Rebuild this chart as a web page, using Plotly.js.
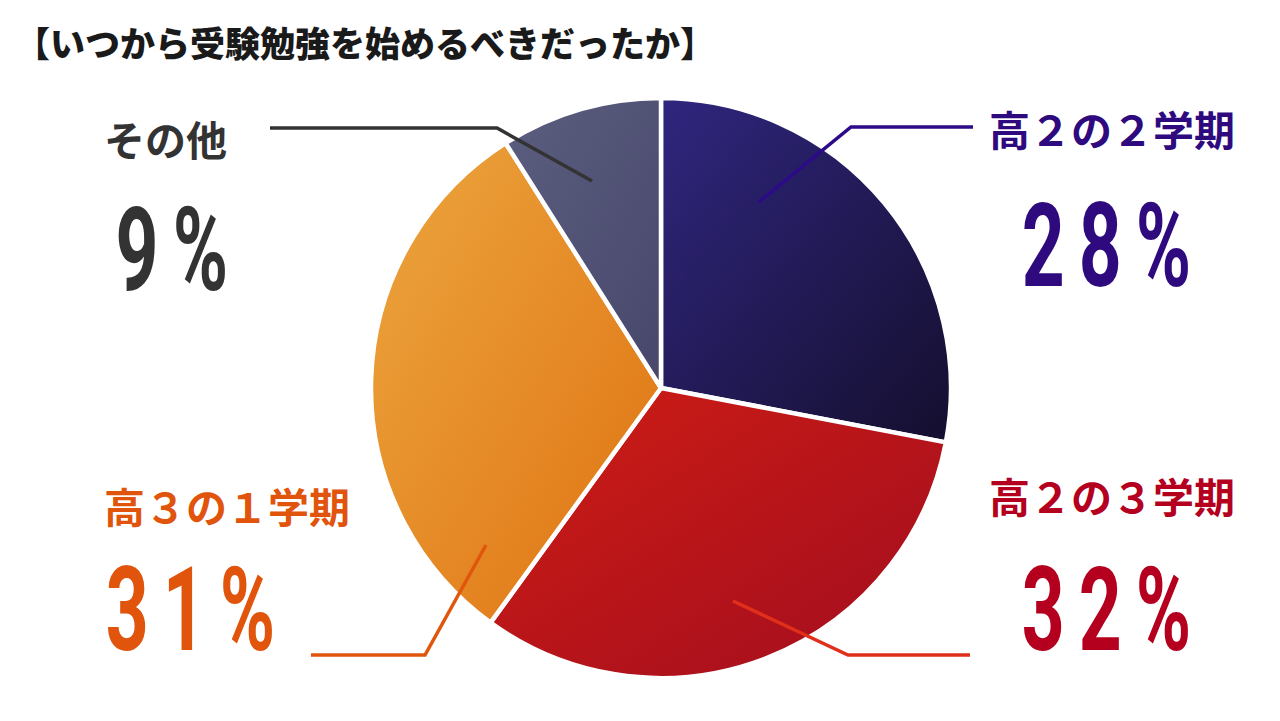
<!DOCTYPE html>
<html><head><meta charset="utf-8">
<script src="https://cdn.plot.ly/plotly-3.0.1.min.js"></script>
<style>html,body{margin:0;padding:0;background:#fff}#chart{width:1280px;height:721px}</style>
</head><body><div id="chart"></div>
<script>
// ---- data ----
const categories = ['高２の２学期', '高２の３学期', '高３の１学期', 'その他'];
const values = [28, 32, 31, 9];
const titleText = '【いつから受験勉強を始めるべきだったか】';

// ---- styles / placement ----
const W = 1280, H = 721;
const sliceColors = ['#221a5e', '#bb1519', '#e68a28', '#525374'];
const gradStops = [['#30267f', '#140f2e'], ['#cf1d14', '#a10d1f'], ['#eca63e', '#df7212'], ['#5c5e80', '#46476a']];
const textColors = ['#2e0a7e', '#b4001e', '#e0540c', '#333333'];
const lineColors = ['#2c0a88', '#e0301c', '#e0560c', '#333333'];
const namePos = [[1112, 128], [1112, 495], [227, 505], [165, 138]];
const pctPos = [[1106, 246], [1106, 610], [190, 610], [172, 250]];
const leaderPts = [
  [[759, 202], [851, 127], [973, 127]],
  [[733, 601], [848, 655], [970, 655]],
  [[486, 545], [425, 655], [311, 655]],
  [[592, 181], [497, 128], [270, 128]]
];
const pieCenter = [661, 388], pieR = 290;

const px = x => x / W, py = y => 1 - y / H;

const data = [{
  type: 'pie',
  labels: categories,
  values: values,
  sort: false,
  direction: 'clockwise',
  rotation: 0,
  textinfo: 'none',
  hoverinfo: 'none',
  marker: { colors: sliceColors, line: { color: '#ffffff', width: 4.5 } },
  domain: {
    x: [px(pieCenter[0] - pieR), px(pieCenter[0] + pieR)],
    y: [py(pieCenter[1] + pieR), py(pieCenter[1] - pieR)]
  }
}];

const annotations = [];
categories.forEach((c, i) => {
  annotations.push({
    text: c, xref: 'paper', yref: 'paper', x: px(namePos[i][0]), y: py(namePos[i][1]),
    xanchor: 'center', yanchor: 'middle', showarrow: false,
    font: { family: 'Noto Sans CJK JP', size: 41, weight: 700, color: textColors[i] }
  });
  annotations.push({
    text: values[i] + '%', xref: 'paper', yref: 'paper', x: px(pctPos[i][0]), y: py(pctPos[i][1]),
    xanchor: 'center', yanchor: 'middle', showarrow: false,
    font: { family: 'Roboto', size: 117, weight: 700, color: textColors[i] }
  });
});

const shapes = leaderPts.map((pts, i) => ({
  type: 'path', xref: 'paper', yref: 'paper',
  path: pts.map((p, k) => (k ? 'L' : 'M') + px(p[0]) + ',' + py(p[1])).join(' '),
  line: { color: lineColors[i], width: 3.5 }
}));

const layout = {
  width: W, height: H,
  margin: { l: 0, r: 0, t: 0, b: 0 },
  paper_bgcolor: '#ffffff',
  showlegend: false,
  title: {
    text: titleText, x: px(15), xanchor: 'left', y: py(45), yanchor: 'middle',
    font: { family: 'Noto Sans CJK JP', size: 35, weight: 900, color: '#1a1a1a' }
  },
  annotations: annotations,
  shapes: shapes
};

Plotly.newPlot('chart', data, layout, { staticPlot: true }).then(gd => {
  const NS = 'http://www.w3.org/2000/svg';
  const svg = gd.querySelector('svg.main-svg');
  let defs = svg.querySelector('defs');
  if (!defs) { defs = document.createElementNS(NS, 'defs'); svg.insertBefore(defs, svg.firstChild); }
  gradStops.forEach((s, i) => {
    const lg = document.createElementNS(NS, 'linearGradient');
    lg.setAttribute('id', 'sg' + i);
    lg.setAttribute('x1', '0'); lg.setAttribute('y1', '0');
    lg.setAttribute('x2', '1'); lg.setAttribute('y2', '1');
    s.forEach((col, k) => {
      const st = document.createElementNS(NS, 'stop');
      st.setAttribute('offset', k ? '1' : '0');
      st.setAttribute('stop-color', col);
      lg.appendChild(st);
    });
    defs.appendChild(lg);
  });
  gd.querySelectorAll('g.slice path.surface').forEach((p, i) => { p.style.fill = 'url(#sg' + i + ')'; });

  gd.querySelectorAll('text.annotation-text').forEach(t => {
    if (!/%$/.test(t.textContent)) return;
    const b0 = t.getBBox(); const cx0 = b0.x + b0.width / 2;
    t.style.letterSpacing = '22px';
    const b1 = t.getBBox(); const cx1 = b1.x + (b1.width - 22) / 2;
    t.setAttribute('transform', `translate(${cx0} 0) scale(0.64 1) translate(${-cx1} 0)`);
  });
});
</script>
</body></html>
